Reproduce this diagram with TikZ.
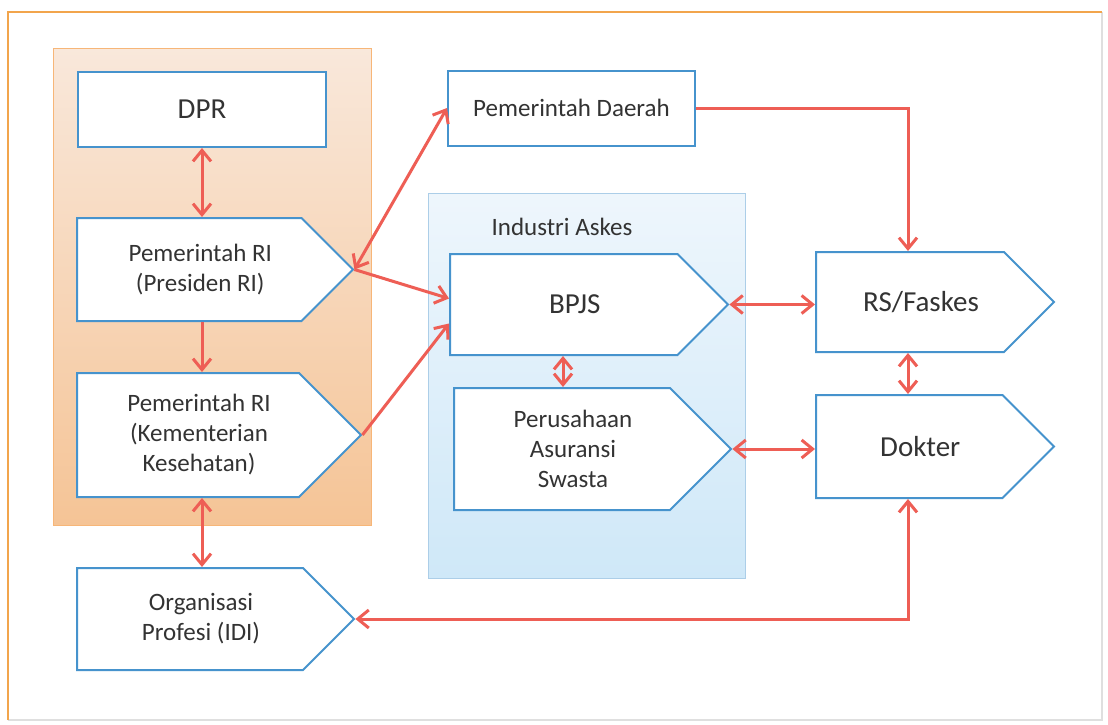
\documentclass[tikz,border=0pt]{standalone}
\usepackage{fontspec}
\setmainfont{Carlito}
\usepackage{tikz}
\usetikzlibrary{shapes.symbols,arrows.meta,positioning}
\definecolor{frameorange}{HTML}{F2A54C}
\definecolor{boxblue}{HTML}{4693CD}
\definecolor{linkred}{HTML}{EE5E55}
\definecolor{txtgray}{HTML}{333333}
\definecolor{govtop}{HTML}{F9E8DB}
\definecolor{govbottom}{HTML}{F5C496}
\definecolor{askestop}{HTML}{EEF6FC}
\definecolor{askesbottom}{HTML}{CFE8F8}
\newcommand{\lpad}{\hspace*{22pt}}
\tikzstyle{plainbox} = [draw=boxblue, line width=2pt, fill=white,
    rectangle, text=txtgray, align=center, inner sep=0pt]
\tikzstyle{arrowbox} = [plainbox, signal, signal to=east, signal pointer angle=90]
\tikzstyle{smalltxt} = [font=\fontsize{25}{30}\selectfont]
\tikzstyle{bigtxt} = [font=\fontsize{29}{34}\selectfont]
\tikzstyle{govpanel} = [draw=govbottom!80!orange, top color=govtop, bottom color=govbottom, inner sep=0pt]
\tikzstyle{askespanel} = [draw=boxblue!45, line width=1pt, top color=askestop, bottom color=askesbottom, inner sep=0pt]
\tikzstyle{oneway} = [draw=linkred, line width=3pt, -{Straight Barb[length=11pt,width=18pt]}]
\tikzstyle{twoway} = [draw=linkred, line width=3pt, {Straight Barb[length=11pt,width=18pt]}-{Straight Barb[length=11pt,width=18pt]}]

\begin{document}
\begin{tikzpicture}[x=1pt,y=-1pt]
                \useasboundingbox (0,0) rectangle (1108,724);
                \fill[white] (0,0) rectangle (1108,724);
                \draw[gray!25, line width=1.5pt] (1102,12) -- (1102,720) -- (8,720);
                \draw[frameorange, line width=2pt] (8,720) -- (8,12) -- (1102,12);
                % panels
                \node [govpanel, minimum width=318pt, minimum height=477pt] (gov) at (212,286.5) {};
                \node [askespanel, minimum width=317pt, minimum height=385pt] (askes) at (586.5,385.5) {};
                \node [smalltxt, text=txtgray] (askeslabel) at (562,227) {Industri Askes};
                % boxes
                \node [plainbox, bigtxt, minimum width=248pt, minimum height=75pt] (dpr) at (202,109.5) {DPR};
                \node [arrowbox, smalltxt, minimum width=276pt, minimum height=103pt, anchor=west] (presiden) at (76,269.5) {\lpad Pemerintah RI\\\lpad (Presiden RI)};
                \node [arrowbox, smalltxt, minimum width=284pt, minimum height=124pt, anchor=west] (kemenkes) at (76,435) {\lpad Pemerintah RI\\\lpad (Kementerian\\\lpad Kesehatan)};
                \node [arrowbox, smalltxt, minimum width=277pt, minimum height=102pt, anchor=west] (idi) at (76,619) {\lpad Organisasi\\\lpad Profesi (IDI)};
                \node [plainbox, smalltxt, minimum width=247pt, minimum height=75pt] (daerah) at (571.5,108) {Pemerintah Daerah};
                \node [arrowbox, bigtxt, minimum width=278pt, minimum height=101pt, anchor=west] (bpjs) at (449,304.5) {\lpad BPJS};
                \node [arrowbox, smalltxt, minimum width=277pt, minimum height=122pt, anchor=west] (swasta) at (453,449) {\lpad Perusahaan\\\lpad Asuransi\\\lpad Swasta};
                \node [arrowbox, bigtxt, minimum width=238pt, minimum height=100pt, anchor=west] (faskes) at (815,302) {\lpad RS/Faskes};
                \node [arrowbox, bigtxt, minimum width=238pt, minimum height=103pt, anchor=west] (dokter) at (815,446.5) {\lpad Dokter};
                % links
                \draw [twoway] (dpr.south) -- (dpr.south |- presiden.north);
                \draw [oneway] (dpr.south |- presiden.south) -- (dpr.south |- kemenkes.north);
                \draw [twoway] (dpr.south |- kemenkes.south) -- (dpr.south |- idi.north);
                \draw [twoway] (presiden.east) -- (daerah.west);
                \draw [oneway] (presiden.east) -- ([yshift=6pt]bpjs.west);
                \draw [oneway] (kemenkes.east) -- ([yshift=-19pt]bpjs.west);
                \draw [twoway] ([xshift=114pt]bpjs.south west) -- ([xshift=110pt]swasta.north west);
                \draw [oneway] (daerah.east) -| ([xshift=93pt]faskes.north west);
                \draw [twoway] (bpjs.east) -- (bpjs.east -| faskes.west);
                \draw [twoway] (swasta.east) -- (swasta.east -| dokter.west);
                \draw [twoway] ([xshift=93pt]faskes.south west) -- ([xshift=93pt]dokter.north west);
                \draw [twoway] (idi.east) -| ([xshift=93pt]dokter.south west);
\end{tikzpicture}
\end{document}
